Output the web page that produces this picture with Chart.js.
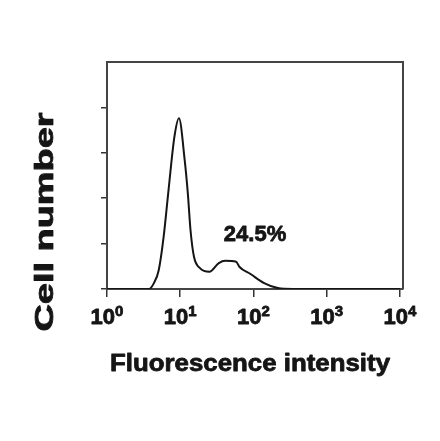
<!DOCTYPE html>
<html>
<head>
<meta charset="utf-8">
<script src="https://cdn.jsdelivr.net/npm/chart.js@4/dist/chart.umd.min.js"></script>
<style>
  html, body { margin: 0; padding: 0; background: #fff; }
</style>
</head>
<body>
<canvas id="histo" width="440" height="441"></canvas>
<script>
// histogram (fluorescence channel vs cell count)
const intensity = [1, 3.74, 4.37, 5.09, 5.93, 6.92, 8.32, 9.6, 11.5, 12.7, 13.8, 15.4, 18.6, 25, 33.6, 41.2, 58, 64, 91, 140, 215, 343, 10000];
const cells     = [0, 0, 0.13, 0.42, 1.15, 2.18, 3.35, 3.76, 2.84, 2.1, 1.3, 0.71, 0.46, 0.38, 0.57, 0.62, 0.6, 0.49, 0.33, 0.13, 0.02, 0, 0];
const xTicks = [1, 10, 100, 1000, 10000];
const yTicks = [0, 1, 2, 3, 4];
const gateLabel = '24.5%';
const gateAt = { x: 105, y: 1.19 };

const FONT = '"Liberation Sans", Arial, Helvetica, sans-serif';
const INK = '#151515';

// fill + thin stroke so the bold text looks as heavy as the scan
function heavyText(ctx, txt, x, y) {
  ctx.fillText(txt, x, y);
  ctx.strokeText(txt, x, y);
}

// frame, superscript tick labels, axis titles, gate percentage
const decorations = {
  id: 'decorations',
  afterDraw(chart) {
    const ctx = chart.ctx;
    const a = chart.chartArea;
    const xs = chart.scales.x, ys = chart.scales.y;
    ctx.save();

    // top + right part of the box
    ctx.strokeStyle = '#444';
    ctx.lineWidth = 2;
    ctx.beginPath();
    ctx.moveTo(a.left, a.top);
    ctx.lineTo(a.right, a.top);
    ctx.lineTo(a.right, a.bottom);
    ctx.stroke();

    ctx.fillStyle = INK;
    ctx.strokeStyle = INK;
    ctx.lineWidth = 0.8;
    ctx.lineJoin = 'round';

    // 10^n labels
    ctx.textBaseline = 'alphabetic';
    ctx.textAlign = 'left';
    xTicks.forEach(v => {
      const px = xs.getPixelForValue(v);
      const exp = String(Math.round(Math.log10(v)));
      ctx.font = 'bold 22px ' + FONT;
      const wBase = ctx.measureText('10').width;
      ctx.font = 'bold 15px ' + FONT;
      const wExp = ctx.measureText(exp).width;
      const start = px - (wBase + wExp) / 2;
      ctx.font = 'bold 22px ' + FONT;
      heavyText(ctx, '10', start, 324);
      ctx.font = 'bold 15px ' + FONT;
      heavyText(ctx, exp, start + wBase, 316);
    });

    // x title
    ctx.font = 'bold 24px ' + FONT;
    ctx.textAlign = 'center';
    const xt = 'Fluorescence intensity';
    const xw = ctx.measureText(xt).width;
    ctx.save();
    ctx.translate(250, 371);
    ctx.scale(280 / xw, 1);
    heavyText(ctx, xt, 0, 0);
    ctx.restore();

    // y title (stretched like the scan)
    const yt = 'Cell number';
    ctx.font = 'bold 25px ' + FONT;
    const yw = ctx.measureText(yt).width;
    ctx.save();
    ctx.translate(53, 222);
    ctx.rotate(-Math.PI / 2);
    ctx.scale(219 / yw, 1);
    ctx.textAlign = 'center';
    heavyText(ctx, yt, 0, 0);
    ctx.restore();

    // gate percentage
    ctx.font = 'bold 22px ' + FONT;
    ctx.textAlign = 'center';
    ctx.textBaseline = 'middle';
    heavyText(ctx, gateLabel, xs.getPixelForValue(gateAt.x), ys.getPixelForValue(gateAt.y));

    ctx.restore();
  }
};

new Chart(document.getElementById('histo'), {
  type: 'line',
  data: {
    datasets: [{
      data: intensity.map((v, i) => ({ x: v, y: cells[i] })),
      borderColor: INK,
      borderWidth: 2,
      pointRadius: 0,
      fill: false,
      cubicInterpolationMode: 'monotone'
    }]
  },
  options: {
    responsive: false,
    animation: false,
    layout: { padding: { left: 101, right: 37, top: 62, bottom: 144 } },
    plugins: { legend: { display: false }, tooltip: { enabled: false } },
    scales: {
      x: {
        type: 'logarithmic',
        min: 1,
        max: 10990,
        afterBuildTicks: s => { s.ticks = xTicks.map(v => ({ value: v })); },
        ticks: { display: false },
        grid: { drawOnChartArea: false, drawTicks: true, tickLength: 8, color: '#333', lineWidth: 1.5 },
        border: { display: true, color: '#444', width: 2 }
      },
      y: {
        min: 0,
        max: 5,
        afterBuildTicks: s => { s.ticks = yTicks.map(v => ({ value: v })); },
        ticks: { display: false },
        grid: { drawOnChartArea: false, drawTicks: true, tickLength: 6, color: '#333', lineWidth: 1.5 },
        border: { display: true, color: '#444', width: 2 }
      }
    }
  },
  plugins: [decorations]
});
</script>
</body>
</html>
